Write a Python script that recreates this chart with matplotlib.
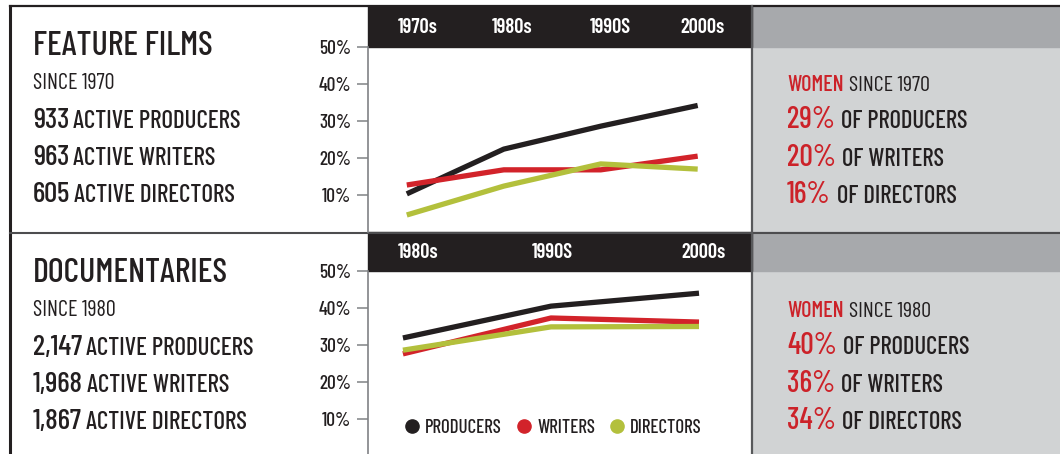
import numpy as np
import matplotlib
matplotlib.use('Agg')
import matplotlib.pyplot as plt
from matplotlib.lines import Line2D

plt.rcParams['font.family'] = ['Barlow Condensed', 'Roboto Condensed', 'DejaVu Sans']

# --- data (share of women, %) ---
film_decades = ['1970s', '1980s', '1990S', '2000s']
film_producers = [10.3, 22.4, 28.6, 34.2]
film_writers = [12.7, 16.8, 16.8, 20.5]
film_directors = [4.6, 12.4, 18.4, 17.0]

doc_decades = ['1980s', '1990S', '2000s']
doc_producers = [31.9, 40.5, 44.0]
doc_writers = [27.6, 37.3, 36.2]
doc_directors = [28.6, 34.9, 35.0]

roles = ['PRODUCERS', 'WRITERS', 'DIRECTORS']
film_counts = ['933', '963', '605']
doc_counts = ['2,147', '1,968', '1,867']
film_women = ['29%', '20%', '16%']
doc_women = ['40%', '36%', '34%']
pct_ticks = [10, 20, 30, 40, 50]

DARK = '#231f20'
RED = '#cc2229'
LINE_RED = '#d2232a'
GREEN = '#b3c03c'
GRAY_HEAD = '#a7a9ac'
GRAY_PANEL = '#d1d3d4'
AXIS_GRAY = '#808285'

W, H = 1060, 454
fig = plt.figure(figsize=(W / 100, H / 100), dpi=100)
bg = fig.add_axes([0, 0, 1, 1])
bg.set_xlim(0, W)
bg.set_ylim(H, 0)
bg.axis('off')


def fbox(x0, y0, x1, y1):
    return [x0 / W, 1 - y1 / H, (x1 - x0) / W, (y1 - y0) / H]


# panels and frame
bg.add_patch(plt.Rectangle((752, 6), W - 752, H - 6, color=GRAY_PANEL, zorder=0))
for top, bot in [(6, 47), (232, 271)]:
    bg.add_patch(plt.Rectangle((752, top), W - 752, bot - top, color=GRAY_HEAD, zorder=1))
    bg.add_patch(plt.Rectangle((368, top), 752 - 368, bot - top, color=DARK, zorder=1))
bg.plot([10, W], [6, 6], color=DARK, lw=1.6, zorder=3)
bg.plot([10, 10], [6, H], color=DARK, lw=2.2, zorder=3)
bg.plot([10, W], [232.5, 232.5], color='#4d4d4f', lw=1.5, zorder=3)
bg.plot([752, 752], [6, H], color='#58595b', lw=1.6, zorder=3)


def runs(x, y, parts, gap=5):
    renderer = fig.canvas.get_renderer()
    for s, size, color, weight in parts:
        t = bg.text(x, y, s, fontsize=size, color=color, fontweight=weight,
                    va='baseline', ha='left', zorder=4)
        bb = t.get_window_extent(renderer)
        x = bb.x1 + gap


def chart(box, xlim, decades, series, label_dx, label_y):
    ax = fig.add_axes(fbox(*box))
    ax.set_facecolor('none')
    for vals, col in series:
        ax.plot(range(len(vals)), vals, color=col, lw=3.8, solid_capstyle='butt')
    ax.set_xlim(*xlim)
    ax.set_ylim(0, 50)
    ax.set_xticks([])
    ax.set_yticks(pct_ticks)
    ax.set_yticklabels([f'{v}%' for v in pct_ticks], fontweight='medium')
    for side in ['top', 'right', 'bottom']:
        ax.spines[side].set_visible(False)
    ax.spines['left'].set_color(AXIS_GRAY)
    ax.spines['left'].set_linewidth(1.2)
    ax.tick_params(axis='y', direction='out', length=8, width=1.1, color=AXIS_GRAY,
                   labelcolor=DARK, labelsize=14, pad=4)
    for i, lab in enumerate(decades):
        px = ax.transData.transform((i, 0))[0] + label_dx[i]
        bg.text(px, label_y, lab, color='white', fontsize=14.8, fontweight='semibold',
                ha='center', va='baseline', zorder=4)
    return ax


ax1 = chart((368, 47, 752, 232), (-0.4, 3.56), film_decades,
            [(film_producers, DARK), (film_writers, LINE_RED), (film_directors, GREEN)],
            [11, 8, 10, 5], 33)
ax2 = chart((368, 271, 752, 456), (-0.236, 2.358), doc_decades,
            [(doc_producers, DARK), (doc_writers, LINE_RED), (doc_directors, GREEN)],
            [15, 1, 4], 258)

handles = [Line2D([], [], marker='o', ls='', color=c, markersize=9.5)
           for c in [DARK, LINE_RED, GREEN]]
leg = ax2.legend(handles, roles, loc='center', bbox_to_anchor=(553 / W, 1 - 428 / H),
                 bbox_transform=fig.transFigure, frameon=False, ncol=3, handlelength=0.8,
                 handletextpad=0.3, columnspacing=0.75,
                 prop={'size': 13.6, 'weight': 'medium'})
for t in leg.get_texts():
    t.set_color(DARK)

# left text blocks
for top, title, since, counts in [(0, 'FEATURE FILMS', 'SINCE 1970', film_counts),
                                  (227, 'DOCUMENTARIES', 'SINCE 1980', doc_counts)]:
    runs(33, top + 55, [(title, 24.5, DARK, 'medium')])
    runs(33, top + 89, [(since, 16, DARK, 'normal')])
    for k, (n, r) in enumerate(zip(counts, roles)):
        runs(33, top + 128 + 37 * k, [(n, 21, DARK, 'medium'),
                                      ('ACTIVE ' + r, 18, DARK, 'medium')], gap=4)

# right text blocks
for top, since, women in [(0, 'SINCE 1970', film_women), (226, 'SINCE 1980', doc_women)]:
    runs(787, top + 91, [('WOMEN', 15.9, RED, 'medium'), (since, 15.9, DARK, 'normal')])
    for k, (p, r) in enumerate(zip(women, roles)):
        runs(787, top + 128 + 37.5 * k, [(p, 21.5, RED, 'medium'),
                                         ('OF ' + r, 17.8, DARK, 'medium')], gap=6)

fig.savefig('out.png', dpi=100)
